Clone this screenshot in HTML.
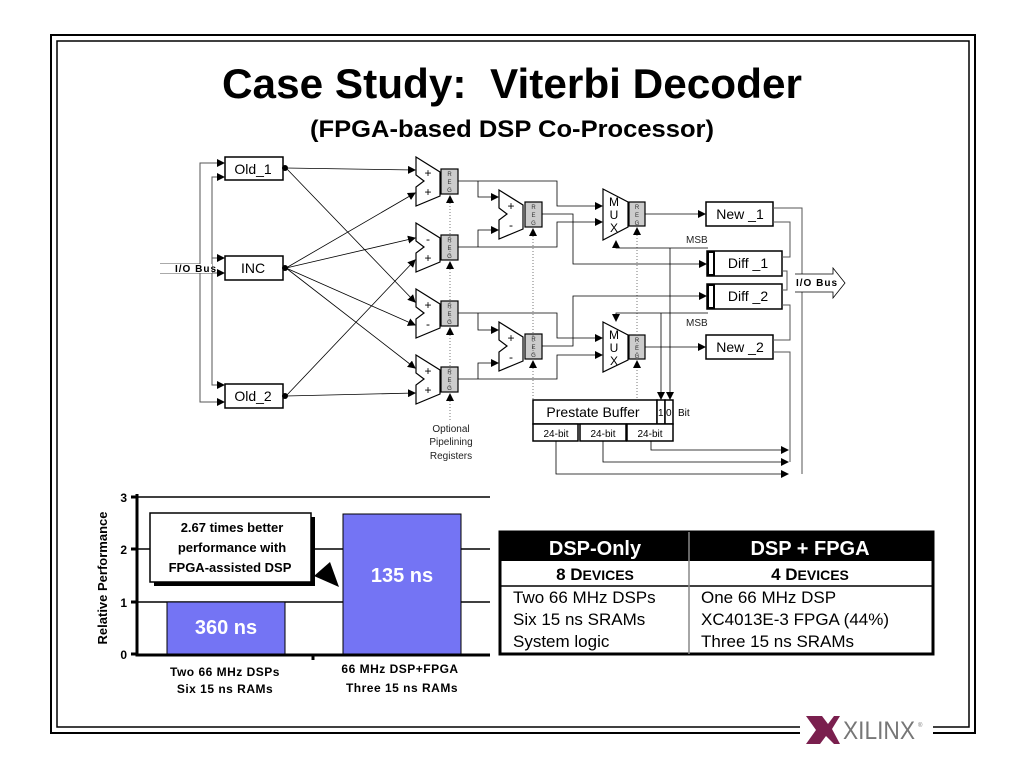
<!DOCTYPE html>
<html><head><meta charset="utf-8"><style>
html,body{margin:0;padding:0;background:#fff;}
svg{display:block;font-family:"Liberation Sans",Arial,sans-serif;}
</style></head><body>
<svg width="1024" height="768" viewBox="0 0 1024 768" xmlns="http://www.w3.org/2000/svg">
<defs>
<marker id="ar" markerWidth="8" markerHeight="8" refX="7" refY="4" orient="auto" markerUnits="userSpaceOnUse"><path d="M0,0 L8,4 L0,8 z" fill="#000"/></marker>
</defs>
<!-- frame -->
<g fill="none" stroke="#000">
<path d="M800,733 H51 V35 H975 V733 H933" stroke-width="2"/>
<path d="M800,727 H57 V41 H969 V727 H933" stroke-width="1.5"/>
</g>
<text x="512" y="98" font-size="42" font-weight="bold" text-anchor="middle" textLength="580" lengthAdjust="spacingAndGlyphs">Case Study:&#160; Viterbi Decoder</text>
<text x="512" y="137" font-size="24" font-weight="bold" text-anchor="middle" textLength="404" lengthAdjust="spacingAndGlyphs">(FPGA-based DSP Co-Processor)</text>

<!-- left bus -->
<g fill="none" stroke="#555" stroke-width="1">
<path d="M160,264 H200 V163 H224" marker-end="url(#ar)"/>
<path d="M200,264 V402 H224" marker-end="url(#ar)"/>
<path d="M160,273 H212 V177 H224" marker-end="url(#ar)"/>
<path d="M212,258 H224" marker-end="url(#ar)"/>
<path d="M212,273 V385 H224" marker-end="url(#ar)"/>
<path d="M212,273 H224" marker-end="url(#ar)"/>
</g>
<rect x="160" y="264" width="52" height="9" fill="#fff"/>
<text x="175" y="272" font-size="10" font-weight="bold" letter-spacing="1">I/O Bus</text>

<g fill="#fff" stroke="#000" stroke-width="1.5">
<rect x="225" y="157" width="58" height="23"/>
<rect x="225" y="256" width="58" height="24"/>
<rect x="225" y="384" width="58" height="24"/>
</g>
<g font-size="14" text-anchor="middle">
<text x="253" y="174">Old_1</text><text x="253" y="273">INC</text><text x="253" y="401">Old_2</text>
</g>
<g fill="#000"><circle cx="285" cy="168" r="3"/><circle cx="285" cy="268" r="3"/><circle cx="285" cy="396" r="3"/></g>

<!-- crossing wires -->
<g stroke="#000" stroke-width="0.8" fill="none" marker-end="url(#ar)">
<path d="M286,168 L415,170"/>
<path d="M286,168 L415,302"/>
<path d="M286,268 L415,193"/>
<path d="M286,268 L415,238"/>
<path d="M286,268 L415,325"/>
<path d="M286,268 L415,368"/>
<path d="M286,396 L415,260"/>
<path d="M286,396 L415,393"/>
</g>

<!-- adders -->
<g stroke="#000" stroke-width="1.2">
<g>
<path d="M416,157 L440,172 L440,196 L416,206 L416,187 L424,181 L416,175 Z" fill="#fff"/>
<rect x="441" y="169" width="17" height="25" fill="#ccc"/>
</g>
<g transform="translate(0,66)">
<path d="M416,157 L440,172 L440,196 L416,206 L416,187 L424,181 L416,175 Z" fill="#fff"/>
<rect x="441" y="169" width="17" height="25" fill="#ccc"/>
</g>
<g transform="translate(0,132)">
<path d="M416,157 L440,172 L440,196 L416,206 L416,187 L424,181 L416,175 Z" fill="#fff"/>
<rect x="441" y="169" width="17" height="25" fill="#ccc"/>
</g>
<g transform="translate(0,198)">
<path d="M416,157 L440,172 L440,196 L416,206 L416,187 L424,181 L416,175 Z" fill="#fff"/>
<rect x="441" y="169" width="17" height="25" fill="#ccc"/>
</g>
<g transform="translate(83,33)">
<path d="M416,157 L440,172 L440,196 L416,206 L416,187 L424,181 L416,175 Z" fill="#fff"/>
<rect x="442" y="169" width="17" height="25" fill="#ccc"/>
</g>
<g transform="translate(83,165)">
<path d="M416,157 L440,172 L440,196 L416,206 L416,187 L424,181 L416,175 Z" fill="#fff"/>
<rect x="442" y="169" width="17" height="25" fill="#ccc"/>
</g>
<path d="M603,189 L628,202 L628,227 L603,240 Z" fill="#fff"/>
<rect x="629" y="202" width="16" height="24" fill="#ccc"/>
<path d="M603,322 L628,335 L628,360 L603,372 Z" fill="#fff"/>
<rect x="629" y="335" width="16" height="24" fill="#ccc"/>
</g>
<g font-size="12" text-anchor="middle">
<text x="428" y="177">+</text><text x="428" y="196">+</text>
<text x="428" y="243">-</text><text x="428" y="262">+</text>
<text x="428" y="309">+</text><text x="428" y="328">-</text>
<text x="428" y="375">+</text><text x="428" y="394">+</text>
<text x="511" y="210">+</text><text x="511" y="229">-</text>
<text x="511" y="342">+</text><text x="511" y="361">-</text>
<text x="614" y="206">M</text><text x="614" y="219">U</text><text x="614" y="232">X</text>
<text x="614" y="339">M</text><text x="614" y="352">U</text><text x="614" y="365">X</text>
</g>
<g font-size="6" text-anchor="middle" fill="#333">
<text x="449.5" y="176">R</text><text x="449.5" y="184">E</text><text x="449.5" y="192">G</text>
<text x="449.5" y="242">R</text><text x="449.5" y="250">E</text><text x="449.5" y="258">G</text>
<text x="449.5" y="308">R</text><text x="449.5" y="316">E</text><text x="449.5" y="324">G</text>
<text x="449.5" y="374">R</text><text x="449.5" y="382">E</text><text x="449.5" y="390">G</text>
<text x="533.5" y="209">R</text><text x="533.5" y="217">E</text><text x="533.5" y="225">G</text>
<text x="533.5" y="341">R</text><text x="533.5" y="349">E</text><text x="533.5" y="357">G</text>
<text x="637" y="209">R</text><text x="637" y="217">E</text><text x="637" y="225">G</text>
<text x="637" y="342">R</text><text x="637" y="350">E</text><text x="637" y="358">G</text>
</g>
<g stroke="#777" stroke-width="1" stroke-dasharray="1,2">
<path d="M450,200 V420"/><path d="M533,233 V400"/><path d="M637,232 V400"/>
</g>
<g fill="#000">
<path d="M446,203 L450,195 L454,203Z"/><path d="M446,269 L450,261 L454,269Z"/>
<path d="M446,335 L450,327 L454,335Z"/><path d="M446,401 L450,393 L454,401Z"/>
<path d="M529,236 L533,228 L537,236Z"/><path d="M529,368 L533,360 L537,368Z"/>
<path d="M633,235 L637,227 L641,235Z"/><path d="M633,368 L637,360 L641,368Z"/>
</g>
<g font-size="10" text-anchor="middle" fill="#222">
<text x="451" y="432">Optional</text><text x="451" y="445">Pipelining</text><text x="451" y="459">Registers</text>
</g>

<g stroke="#000" stroke-width="0.8" fill="none">
<path d="M458,181 H557 V206 H602" marker-end="url(#ar)"/>
<path d="M478,181 V197 H498" marker-end="url(#ar)"/>
<path d="M458,247 H557 V222 H602" marker-end="url(#ar)"/>
<path d="M478,247 V230 H498" marker-end="url(#ar)"/>
<path d="M458,313 H557 V338 H602" marker-end="url(#ar)"/>
<path d="M478,313 V330 H498" marker-end="url(#ar)"/>
<path d="M458,379 H557 V355 H602" marker-end="url(#ar)"/>
<path d="M478,379 V363 H498" marker-end="url(#ar)"/>
<path d="M542,214 H573 V264 H706" marker-end="url(#ar)"/>
<path d="M542,346 H573 V296 H706" marker-end="url(#ar)"/>
<path d="M645,214 H705" marker-end="url(#ar)"/>
<path d="M645,347 H705" marker-end="url(#ar)"/>
<path d="M708,248 H616 V241" marker-end="url(#ar)"/>
<path d="M708,313 H616 V321" marker-end="url(#ar)"/>
<path d="M670,248 V399" marker-end="url(#ar)"/>
<path d="M661,313 V399" marker-end="url(#ar)"/>
<path d="M556,441 V474 H788" marker-end="url(#ar)"/>
<path d="M603,441 V462 H788" marker-end="url(#ar)"/>
<path d="M651,441 V450 H788" marker-end="url(#ar)"/>
</g>
<g font-size="10" fill="#222"><text x="686" y="243">MSB</text><text x="686" y="326">MSB</text></g>

<g fill="#fff" stroke="#000" stroke-width="1.5">
<rect x="706" y="202" width="67" height="24"/>
<rect x="706" y="335" width="67" height="24"/>
<rect x="707" y="251" width="75" height="25"/>
<rect x="707" y="284" width="75" height="25"/>
</g>
<rect x="707" y="251" width="8" height="25" fill="#000"/>
<rect x="709" y="253" width="4" height="21" fill="#fff"/>
<rect x="707" y="284" width="8" height="25" fill="#000"/>
<rect x="709" y="286" width="4" height="21" fill="#fff"/>
<g font-size="14" text-anchor="middle">
<text x="740" y="219">New _1</text><text x="740" y="352">New _2</text>
<text x="748" y="268">Diff _1</text><text x="748" y="301">Diff _2</text>
</g>
<g stroke="#555" stroke-width="1" fill="none">
<path d="M773,208 H802 V474"/>
<path d="M773,222 H790 V257 H782"/>
<path d="M782,271 H787 V290 H782"/>
<path d="M782,305 H790 V340 H773"/>
<path d="M773,352 H790 V462"/>
</g>
<path d="M795,274 H833 V268 L845,283 L833,298 V292 H795" fill="#fff" stroke="#000" stroke-width="0.8"/>
<text x="796" y="286" font-size="10" font-weight="bold" letter-spacing="1">I/O Bus</text>

<g fill="#fff" stroke="#000" stroke-width="1.5">
<rect x="533" y="400" width="124" height="24"/>
<rect x="657" y="400" width="8" height="24"/>
<rect x="665" y="400" width="8" height="24"/>
<rect x="533" y="424" width="45" height="17"/>
<rect x="580" y="424" width="46" height="17"/>
<rect x="627" y="424" width="46" height="17"/>
</g>
<text x="593" y="417" font-size="14" text-anchor="middle">Prestate Buffer</text>
<g font-size="10"><text x="658" y="416">1</text><text x="666" y="416">0</text><text x="678" y="416">Bit</text></g>
<g font-size="10" text-anchor="middle"><text x="556" y="437">24-bit</text><text x="603" y="437">24-bit</text><text x="650" y="437">24-bit</text></g>

<!-- chart -->
<g stroke="#000" stroke-width="1.5" fill="none">
<path d="M137,497 H490 M137,549 H490 M137,602 H490"/>
</g>
<rect x="167" y="602" width="118" height="52" fill="#7474f4" stroke="#000"/>
<rect x="343" y="514" width="118" height="140" fill="#7474f4" stroke="#000"/>
<g stroke="#000" stroke-width="3" fill="none"><path d="M137,494 V655 H490"/>
<path d="M131,497 H137 M131,549 H137 M131,602 H137 M131,654 H137 M313,654 V660"/></g>
<g font-size="12" font-weight="bold" text-anchor="end"><text x="127" y="502">3</text><text x="127" y="554">2</text><text x="127" y="607">1</text><text x="127" y="659">0</text></g>
<text transform="translate(107,578) rotate(-90)" font-size="13" font-weight="bold" text-anchor="middle">Relative Performance</text>
<text x="226" y="634" font-size="20" font-weight="bold" fill="#fff" text-anchor="middle">360 ns</text>
<text x="402" y="582" font-size="20" font-weight="bold" fill="#fff" text-anchor="middle">135 ns</text>
<rect x="154" y="517" width="161" height="69" fill="#000"/>
<rect x="150" y="513" width="161" height="69" fill="#fff" stroke="#000" stroke-width="1.5"/>
<g font-size="13" font-weight="bold" text-anchor="middle"><text x="232" y="532">2.67 times better</text><text x="232" y="552">performance with</text><text x="230" y="572">FPGA-assisted DSP</text></g>
<path d="M314,576 L330,562 L339,587 Z" fill="#000"/>
<g font-size="12" font-weight="bold" text-anchor="middle" letter-spacing="0.5">
<text x="225" y="676">Two 66 MHz DSPs</text><text x="225" y="693">Six 15 ns RAMs</text>
<text x="400" y="673">66 MHz DSP+FPGA</text><text x="402" y="692">Three 15 ns RAMs</text>
</g>

<!-- table -->
<rect x="500" y="532" width="433" height="122" fill="#fff" stroke="#000" stroke-width="3"/>
<rect x="500" y="532" width="433" height="29" fill="#000"/>
<path d="M500,586 H933" stroke="#000" stroke-width="1.5"/>
<path d="M689,532 V654" stroke="#888" stroke-width="1.5"/>
<g font-size="20" font-weight="bold" fill="#fff" text-anchor="middle"><text x="595" y="555">DSP-Only</text><text x="810" y="555">DSP + FPGA</text></g>
<g font-weight="bold" text-anchor="middle"><text x="595" y="580" font-size="17">8 D<tspan font-size="14">EVICES</tspan></text><text x="810" y="580" font-size="17">4 D<tspan font-size="14">EVICES</tspan></text></g>
<g font-size="17"><text x="513" y="603">Two 66 MHz DSPs</text><text x="513" y="625">Six 15 ns SRAMs</text><text x="513" y="647">System logic</text>
<text x="701" y="603">One 66 MHz DSP</text><text x="701" y="625">XC4013E-3 FPGA (44%)</text><text x="701" y="647">Three 15 ns SRAMs</text></g>

<!-- logo -->
<path d="M806,716 H822 L828,724 L834,716 H840 L832,729 L840,744 H834 L826,736 L820,744 H806 L816,730 Z" fill="#7a1f4e"/>
<text x="843" y="739" font-size="25" fill="#777" textLength="72" lengthAdjust="spacingAndGlyphs">XILINX</text>
<text x="918" y="727" font-size="6" fill="#777">®</text>
</svg>
</body></html>
